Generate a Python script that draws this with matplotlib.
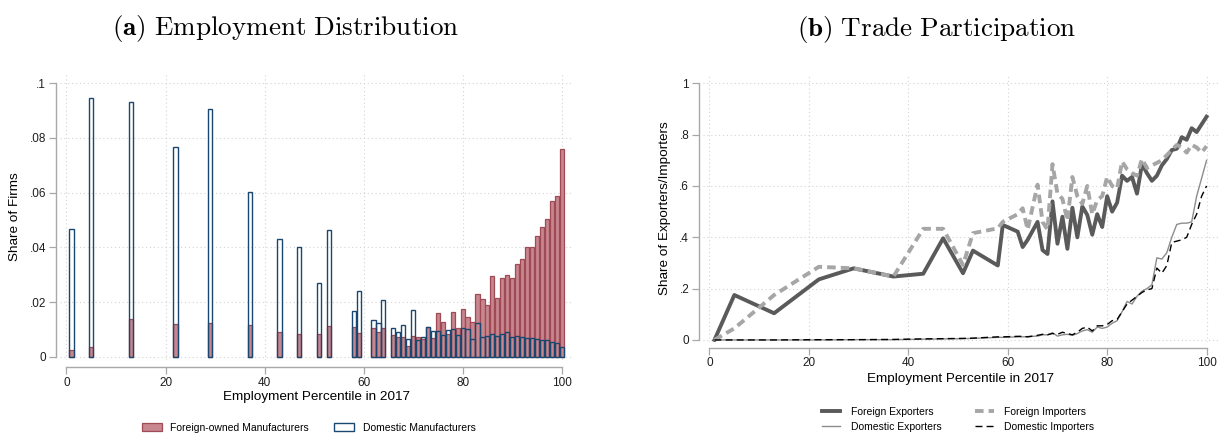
import matplotlib.pyplot as plt
from matplotlib.patches import Patch
from matplotlib.lines import Line2D

plt.rcParams['font.family'] = ['Liberation Sans', 'DejaVu Sans']
plt.rcParams['mathtext.fontset'] = 'cm'

# employment percentile positions (firms with equal size share a percentile)
pct = [1, 5, 13, 22, 29, 37, 43, 47, 51, 53, 58, 59, 62, 63, 64,
       66, 67, 68, 69, 70, 71, 72, 73, 74, 75, 76, 77, 78, 79, 80,
       81, 82, 83, 84, 85, 86, 87, 88, 89, 90, 91, 92, 93, 94, 95,
       96, 97, 98, 99, 100]

# (a) share of firms in each percentile
share_domestic = [.0467, .0948, .0930, .0766, .0906, .0601, .0429, .0400, .0268, .0462,
                  .0168, .0239, .0133, .0123, .0209,
                  .0106, .0089, .0115, .0065, .0170, .0061, .0073, .0110, .0095, .0095,
                  .0079, .0098, .0100, .0081, .0104, .0102, .0066, .0122, .0073, .0077,
                  .0082, .0077, .0082, .0089, .0073, .0074, .0071, .0068, .0068, .0065,
                  .0061, .0060, .0054, .0052, .0034]
share_foreign = [.0024, .0035, .0137, .0120, .0123, .0115, .0090, .0083, .0083, .0111,
                 .0107, .0085, .0104, .0089, .0104,
                 .0081, .0071, .0071, .0039, .0077, .0071, .0063, .0110, .0068, .0159,
                 .0126, .0082, .0162, .0104, .0173, .0146, .0128, .0228, .0210, .0189,
                 .0296, .0213, .0287, .0298, .0288, .0339, .0357, .0400, .0400, .0440,
                 .0473, .0503, .0571, .0586, .0759]

# (b) share of exporters / importers
foreign_exp = [0.0, 0.175, 0.104, 0.236, 0.279, 0.247, 0.258, 0.396, 0.26, 0.348,
               0.29, 0.448, 0.422, 0.362, 0.39,
               0.46, 0.35, 0.335, 0.54, 0.375, 0.48, 0.355, 0.515, 0.40, 0.52,
               0.487, 0.41, 0.49, 0.44, 0.56, 0.50, 0.535, 0.64, 0.62, 0.635,
               0.57, 0.685, 0.65, 0.62, 0.64, 0.68, 0.705, 0.74, 0.745, 0.79,
               0.78, 0.825, 0.81, 0.84, 0.87]
foreign_imp = [0.0, 0.045, 0.175, 0.285, 0.279, 0.247, 0.433, 0.433, 0.292, 0.416,
               0.435, 0.46, 0.49, 0.513, 0.43,
               0.605, 0.46, 0.43, 0.685, 0.57, 0.55, 0.465, 0.635, 0.56, 0.53,
               0.60, 0.49, 0.545, 0.56, 0.635, 0.60, 0.59, 0.695, 0.665, 0.65,
               0.64, 0.705, 0.67, 0.68, 0.69, 0.70, 0.72, 0.74, 0.76, 0.75,
               0.73, 0.76, 0.75, 0.73, 0.755]
domestic_exp = [0.0, 0.0, 0.0, 0.0, 0.001, 0.001, 0.003, 0.004, 0.005, 0.006,
                0.010, 0.010, 0.012, 0.012, 0.013,
                0.015, 0.020, 0.020, 0.028, 0.015, 0.020, 0.022, 0.018, 0.025, 0.035,
                0.040, 0.030, 0.050, 0.045, 0.050, 0.065, 0.075, 0.110, 0.150, 0.140,
                0.170, 0.190, 0.200, 0.215, 0.320, 0.315, 0.340, 0.400, 0.450, 0.455,
                0.455, 0.460, 0.560, 0.630, 0.700]
domestic_imp = [0.0, 0.0, 0.0, 0.001, 0.001, 0.002, 0.004, 0.005, 0.006, 0.007,
                0.012, 0.012, 0.014, 0.014, 0.012,
                0.018, 0.022, 0.020, 0.025, 0.022, 0.030, 0.025, 0.020, 0.030, 0.045,
                0.050, 0.035, 0.055, 0.055, 0.060, 0.075, 0.080, 0.110, 0.140, 0.155,
                0.170, 0.185, 0.195, 0.200, 0.280, 0.260, 0.290, 0.380, 0.385, 0.390,
                0.400, 0.450, 0.490, 0.560, 0.600]

xticks = [0, 20, 40, 60, 80, 100]
yticks_a = [0, .02, .04, .06, .08, .1]
ylabels_a = ['0', '.02', '.04', '.06', '.08', '.1']
yticks_b = [0, .2, .4, .6, .8, 1]
ylabels_b = ['0', '.2', '.4', '.6', '.8', '1']

axis_grey = '#a8a8a8'
red_fill = '#c8868e'
red_edge = '#a04a55'
navy = '#1a476f'


def stata_style(ax, ylim, yticks, ylabels, left_off, bottom_off):
    ax.set_xlim(-1.3, 102.3)
    ax.set_ylim(ylim)
    ax.set_xticks(xticks)
    ax.set_yticks(yticks)
    ax.set_yticklabels(ylabels)
    for s in ['top', 'right']:
        ax.spines[s].set_visible(False)
    ax.spines['left'].set_bounds(yticks[0], yticks[-1])
    ax.spines['bottom'].set_bounds(0, 100)
    ax.spines['left'].set_position(('outward', left_off))
    ax.spines['bottom'].set_position(('outward', bottom_off))
    for s in ['left', 'bottom']:
        ax.spines[s].set_color(axis_grey)
        ax.spines[s].set_linewidth(1.0)
    ax.tick_params(color=axis_grey, labelcolor='#1e1e1e', length=5, width=0.9,
                   labelsize=8.5, pad=2)
    ax.grid(True, linestyle=(0, (1, 2.5)), color='#d4d4d4', linewidth=0.8)
    ax.set_axisbelow(True)


fig = plt.figure(figsize=(12.25, 4.34), dpi=100)

# (a) Employment distribution
ax1 = fig.add_axes([0.049, 0.1705, 0.4188, 0.659])
ax1.bar(pct, share_foreign, width=0.85, color=red_fill, edgecolor=red_edge, linewidth=0.9)
ax1.bar(pct, share_domestic, width=0.85, facecolor='none', edgecolor=navy, linewidth=1.0)
stata_style(ax1, (-0.0012, 0.1034), yticks_a, ylabels_a, 3, 5)
ax1.set_xlabel('Employment Percentile in 2017', fontsize=9.7, labelpad=2)
ax1.set_ylabel('Share of Firms', fontsize=9.7, labelpad=6)
ax1.set_title(r'$\mathbf{(a)}\ \mathrm{Employment\ Distribution}$', fontsize=19.5,
              x=0.44, pad=28)

leg_a = [Patch(facecolor=red_fill, edgecolor=red_edge, linewidth=0.9),
         Patch(facecolor='white', edgecolor=navy, linewidth=1.0)]
fig.legend(leg_a, ['Foreign-owned Manufacturers', 'Domestic Manufacturers'],
           loc='center', bbox_to_anchor=(0.252, 0.014), ncol=2, frameon=False,
           fontsize=7.5, handlelength=1.9, handleheight=0.8, handletextpad=0.85,
           columnspacing=2.4)

# (b) Trade participation
ax2 = fig.add_axes([0.5739, 0.212, 0.4204, 0.615])
ax2.plot(pct, foreign_exp, color='#5a5a5a', linewidth=2.8)
ax2.plot(pct, foreign_imp, color='#a6a6a6', linewidth=2.8, linestyle=(0, (2.2, 1.3)))
ax2.plot(pct, domestic_exp, color='#8c8c8c', linewidth=1.0)
ax2.plot(pct, domestic_imp, color='black', linewidth=1.0, linestyle=(0, (5, 3)))
stata_style(ax2, (-0.008, 1.032), yticks_b, ylabels_b, 3, 4)
ax2.set_xlabel('Employment Percentile in 2017', fontsize=9.7, labelpad=3)
ax2.set_ylabel('Share of Exporters/Importers', fontsize=9.7, labelpad=6)
ax2.set_title(r'$\mathbf{(b)}\ \mathrm{Trade\ Participation}$', fontsize=19.5,
              x=0.454, pad=28)

leg_b = [Line2D([], [], color='#5a5a5a', linewidth=2.8),
         Line2D([], [], color='#8c8c8c', linewidth=1.0),
         Line2D([], [], color='#a6a6a6', linewidth=2.8, linestyle=(0, (2.2, 1.3))),
         Line2D([], [], color='black', linewidth=1.0, linestyle=(0, (5, 3)))]
fig.legend(leg_b, ['Foreign Exporters', 'Domestic Exporters',
                   'Foreign Importers', 'Domestic Importers'],
           loc='center', bbox_to_anchor=(0.782, 0.034), ncol=2, frameon=False,
           fontsize=7.5, handlelength=1.8, handletextpad=1.0, columnspacing=3.2,
           labelspacing=0.45)

fig.savefig('out.png', dpi=100)
